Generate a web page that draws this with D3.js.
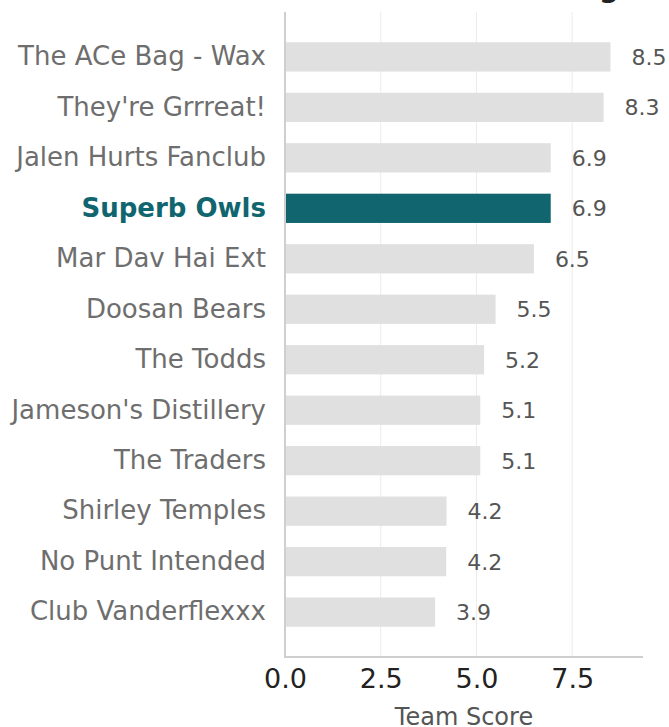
<!DOCTYPE html>
<html>
<head>
<meta charset="utf-8">
<script src="https://cdn.jsdelivr.net/npm/d3@7"></script>
<style>
  body { margin: 0; background: #fff; }
  svg { display: block; font-family: "DejaVu Sans", sans-serif; }
</style>
</head>
<body>
<div id="chart"></div>
<script>
// data
var teams = ["The ACe Bag - Wax", "They're Grrreat!", "Jalen Hurts Fanclub", "Superb Owls",
  "Mar Dav Hai Ext", "Doosan Bears", "The Todds", "Jameson's Distillery", "The Traders",
  "Shirley Temples", "No Punt Intended", "Club Vanderflexxx"];
var scores = [8.5, 8.32, 6.94, 6.94, 6.5, 5.5, 5.2, 5.1, 5.1, 4.22, 4.21, 3.92];
var highlight = "Superb Owls";
var xTicks = [0, 2.5, 5, 7.5];

var rows = teams.map(function(t, i) { return {team: t, score: scores[i]}; });

var width = 669, height = 727;
var plotLeft = 285, plotRight = 643, plotTop = 12, plotBottom = 657;

var svg = d3.select("#chart").append("svg")
  .attr("width", width)
  .attr("height", height);

var x = d3.scaleLinear()
  .domain([0, d3.max(scores) * 1.1])
  .range([plotLeft, plotRight]);

var y = d3.scaleBand()
  .domain(teams)
  .range([plotTop, plotBottom])
  .paddingInner(0.42)
  .paddingOuter(0.6);

// title (mostly cut off at the top edge)
svg.append("text")
  .attr("x", 619)
  .attr("y", -3)
  .attr("text-anchor", "end")
  .attr("font-size", 28)
  .attr("font-weight", "bold")
  .attr("fill", "#222")
  .text("Power Ranking");

// grid lines
svg.selectAll(".grid")
  .data(xTicks.slice(1))
  .enter()
  .append("line")
  .attr("class", "grid")
  .attr("x1", function(d) { return x(d); })
  .attr("x2", function(d) { return x(d); })
  .attr("y1", plotTop)
  .attr("y2", plotBottom)
  .attr("stroke", "#ebebeb")
  .attr("stroke-width", 1);

// bars
svg.selectAll(".bar")
  .data(rows)
  .enter()
  .append("rect")
  .attr("class", "bar")
  .attr("x", x(0))
  .attr("y", function(d) { return y(d.team); })
  .attr("width", function(d) { return x(d.score) - x(0); })
  .attr("height", y.bandwidth())
  .attr("fill", function(d) { return d.team === highlight ? "#10656f" : "#e0e0e0"; });

// value labels
svg.selectAll(".val")
  .data(rows)
  .enter()
  .append("text")
  .attr("class", "val")
  .attr("x", function(d) { return x(d.score) + 21; })
  .attr("y", function(d) { return y(d.team) + y.bandwidth() / 2; })
  .attr("dy", "0.36em")
  .attr("font-size", 22)
  .attr("fill", "#555")
  .text(function(d) { return d.score.toFixed(1); });

// y axis labels
var yAxis = svg.append("g")
  .attr("transform", "translate(" + plotLeft + ",0)")
  .call(d3.axisLeft(y).tickSize(0).tickPadding(19));
yAxis.select(".domain").remove();
yAxis.selectAll("text")
  .attr("font-size", 26)
  .attr("font-family", "DejaVu Sans")
  .attr("fill", function(d) { return d === highlight ? "#10656f" : "#6e6e6e"; })
  .attr("font-weight", function(d) { return d === highlight ? "bold" : "normal"; });

// x axis
var xAxis = svg.append("g")
  .attr("transform", "translate(0," + plotBottom + ")")
  .call(d3.axisBottom(x).tickValues(xTicks).tickFormat(d3.format(".1f")).tickSize(0).tickPadding(12));
xAxis.select(".domain").remove();
xAxis.selectAll("text")
  .attr("font-size", 27)
  .attr("font-family", "DejaVu Sans")
  .attr("fill", "#222");

// axis lines (left and bottom spines)
svg.append("line")
  .attr("x1", plotLeft).attr("x2", plotLeft)
  .attr("y1", plotTop).attr("y2", plotBottom + 1)
  .attr("stroke", "#cfcfcf")
  .attr("stroke-width", 2);
svg.append("line")
  .attr("x1", plotLeft - 1).attr("x2", plotRight)
  .attr("y1", plotBottom).attr("y2", plotBottom)
  .attr("stroke", "#cfcfcf")
  .attr("stroke-width", 2);

// x axis label
svg.append("text")
  .attr("x", (plotLeft + plotRight) / 2)
  .attr("y", 725)
  .attr("text-anchor", "middle")
  .attr("font-size", 24)
  .attr("fill", "#555")
  .text("Team Score");
</script>
</body>
</html>
